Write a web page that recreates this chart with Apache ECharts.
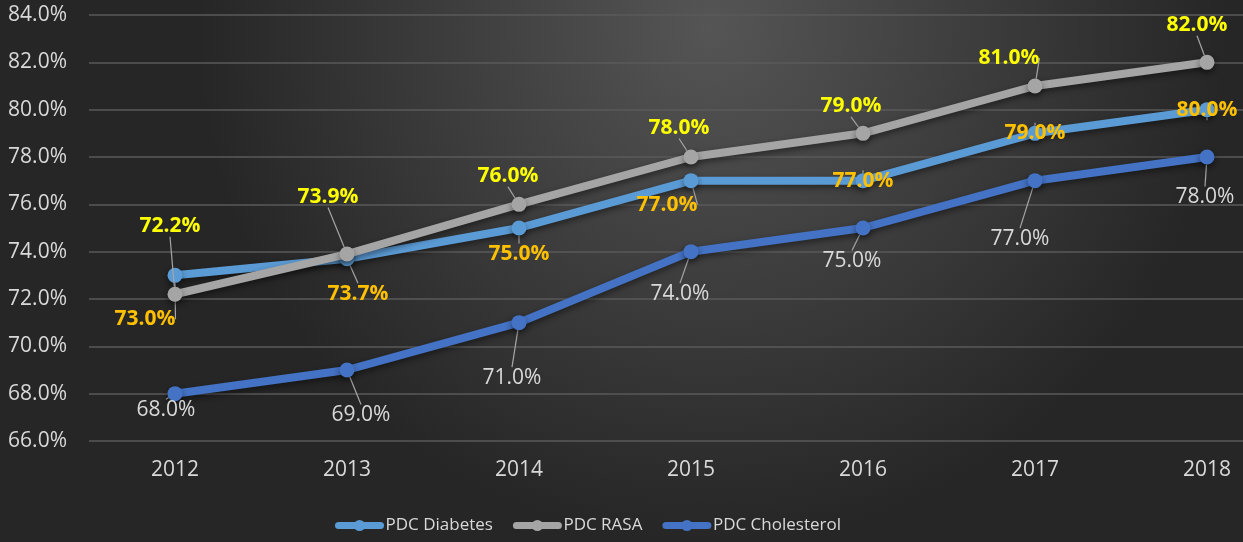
<!DOCTYPE html>
<html>
<head>
<meta charset="utf-8">
<script src="https://cdn.jsdelivr.net/npm/echarts@6/dist/echarts.min.js"></script>
<style>
html,body{margin:0;padding:0;background:#2a2a2a;overflow:hidden;width:1243px;height:542px;}
#c{width:1293px;height:542px;}
</style>
</head>
<body>
<div id="c"></div>
<script>
const years = ['2012','2013','2014','2015','2016','2017','2018'];
const pdcDiabetes = [73.0, 73.7, 75.0, 77.0, 77.0, 79.0, 80.0];
const pdcRasa = [72.2, 73.9, 76.0, 78.0, 79.0, 81.0, 82.0];
const pdcCholesterol = [68.0, 69.0, 71.0, 74.0, 75.0, 77.0, 78.0];
const seriesNames = ['PDC Diabetes', 'PDC RASA', 'PDC Cholesterol'];

const FONT = '"Open Sans", sans-serif';

// label displacement (label centre relative to point), pixels
const shiftDiabetes = [[-30,44],[11,35],[0,26],[-24,24],[0,0],[0,0],[0,0]];
const shiftRasa = [[-5,-68],[-19,-57],[-11,-28],[-12,-29],[-12,-27],[-26,-28],[-10,-37]];
const shiftChol = [[-9,16],[14,45],[-7,55],[-11,42],[-11,33],[-15,58],[-2,40]];

function layoutFn(shifts){
  return function(p){ const s = shifts[p.dataIndex]; return {dx:s[0], dy:s[1]}; };
}

function mkSeries(name, data, color, labelColor, bold, shifts, z){
  return {
    name, type:'line', data, z,
    symbol:'circle', symbolSize:15,
    lineStyle:{width:8, color, cap:'round', shadowBlur:6, shadowColor:'rgba(0,0,0,0.45)', shadowOffsetY:3},
    itemStyle:{color, shadowBlur:6, shadowColor:'rgba(0,0,0,0.45)', shadowOffsetY:3},
    label:{show:true, position:'inside', formatter:(p)=>p.value.toFixed(1)+'%',
      color:labelColor, fontWeight: bold?'bold':'normal', fontSize:21, fontFamily:FONT},
    labelLine:{show:true, lineStyle:{color:'#a6a6a6', width:1.2}, minTurnAngle:0},
    labelLayout: layoutFn(shifts),
    emphasis:{disabled:true},
    animation:false
  };
}

const chart = echarts.init(document.getElementById('c'), null, {renderer:'canvas'});
chart.setOption({
  animation:false,
  backgroundColor:{type:'radial', x:0.55, y:0.05, r:0.95,
    colorStops:[{offset:0,color:'#555555'},{offset:1,color:'#262626'}]},
  grid:{left:89, right:0, top:15, bottom:101, containLabel:false},
  legend:{
    data:seriesNames, left:330, top:512, itemWidth:42, itemHeight:14, itemGap:20,
    lineStyle:{width:7, cap:'round', shadowBlur:0},
    itemStyle:{shadowBlur:0},
    textStyle:{color:'#d9d9d9', fontSize:17, fontFamily:FONT}
  },
  xAxis:{type:'category', data:years, boundaryGap:true,
    axisLine:{show:false}, axisTick:{show:false},
    axisLabel:{color:'#d9d9d9', fontSize:21, fontFamily:FONT, margin:19}},
  yAxis:{type:'value', min:66, max:84, interval:2,
    axisLine:{show:false}, axisTick:{show:false},
    splitLine:{lineStyle:{color:'#5a5a5a', width:1.5}},
    axisLabel:{color:'#d9d9d9', fontSize:21, fontFamily:FONT, margin:22,
      formatter:(v)=>v.toFixed(1)+'%'}},
  series:[
    mkSeries(seriesNames[0], pdcDiabetes, '#5B9BD5', '#FFC000', true, shiftDiabetes, 2),
    mkSeries(seriesNames[1], pdcRasa, '#A5A5A5', '#FFFF00', true, shiftRasa, 3),
    mkSeries(seriesNames[2], pdcCholesterol, '#4472C4', '#d9d9d9', false, shiftChol, 2)
  ]
});
</script>
</body>
</html>
